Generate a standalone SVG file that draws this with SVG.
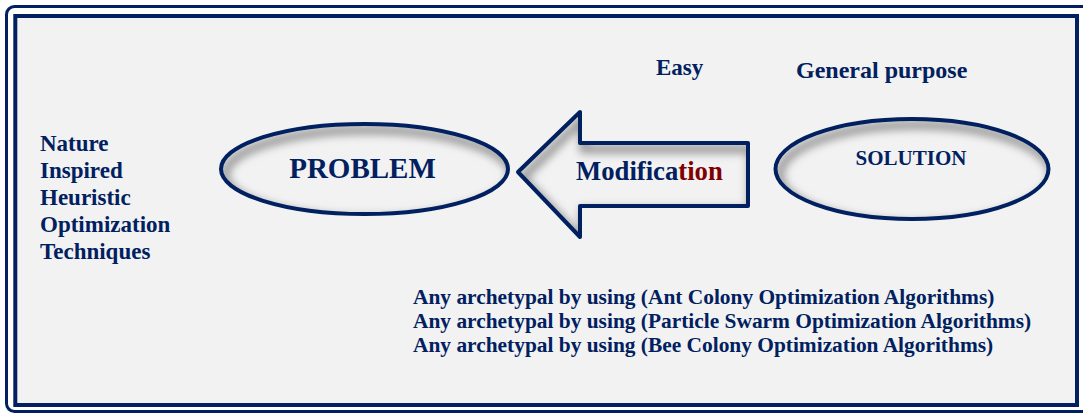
<svg xmlns="http://www.w3.org/2000/svg" width="1083" height="414" viewBox="0 0 1083 414">
  <style>
    .frame { fill: none; stroke: #002060; }
    .shape { fill: #f2f2f2; }
    .edge { fill: none; stroke: #002060; stroke-width: 4; stroke-linejoin: round; }
    .shade { fill: none; stroke: #9a9a9a; stroke-width: 9; }
    .t { font-family: "Liberation Serif", "Times New Roman", serif; font-weight: bold; fill: #002060; }
    .red { fill: #800000; }
  </style>
  <defs>
    <filter id="soft" x="-20%" y="-30%" width="140%" height="160%">
      <feGaussianBlur stdDeviation="4"/>
    </filter>
    <clipPath id="clipProblem"><ellipse cx="364.5" cy="169" rx="143.5" ry="45"/></clipPath>
    <clipPath id="clipSolution"><ellipse cx="912" cy="169" rx="136.5" ry="50"/></clipPath>
    <clipPath id="clipArrow"><polygon points="518,172 580,112 580,143 748,143 748,206 580,206 580,237"/></clipPath>
  </defs>

  <!-- page frame: outer rounded border and inner panel -->
  <rect x="0" y="0" width="1083" height="414" fill="#ffffff"/>
  <rect class="frame" x="6.5" y="6.5" width="1090" height="405" rx="8" stroke-width="3"/>
  <rect x="15.3" y="16" width="1061.7" height="389" fill="#f2f2f2" stroke="#002060" stroke-width="4"/>

  <!-- left caption -->
  <g id="caption" class="t" font-size="23">
    <text x="40" y="151">Nature</text>
    <text x="40" y="178">Inspired</text>
    <text x="40" y="205">Heuristic</text>
    <text x="40" y="232">Optimization</text>
    <text x="40" y="259">Techniques</text>
  </g>

  <!-- top labels -->
  <g id="labels" class="t">
    <text x="656" y="75" font-size="23">Easy</text>
    <text x="796" y="78" font-size="24">General purpose</text>
  </g>

  <!-- problem node -->
  <g id="problem">
    <ellipse class="shape" cx="364.5" cy="169" rx="143.5" ry="45"/>
    <g clip-path="url(#clipProblem)">
      <ellipse class="shade" cx="368.5" cy="175" rx="143.5" ry="45" filter="url(#soft)"/>
    </g>
    <ellipse class="edge" cx="364.5" cy="169" rx="143.5" ry="45"/>
    <text class="t" x="362.5" y="178" font-size="29" text-anchor="middle">PROBLEM</text>
  </g>

  <!-- solution node -->
  <g id="solution">
    <ellipse class="shape" cx="912" cy="169" rx="136.5" ry="50"/>
    <g clip-path="url(#clipSolution)">
      <ellipse class="shade" cx="916" cy="175" rx="136.5" ry="50" filter="url(#soft)"/>
    </g>
    <ellipse class="edge" cx="912" cy="169" rx="136.5" ry="50"/>
    <text class="t" x="911" y="165" font-size="21" text-anchor="middle">SOLUTION</text>
  </g>

  <!-- block arrow from solution to problem -->
  <g id="connectors">
    <g id="modification">
      <polygon class="shape" points="518,172 580,112 580,143 748,143 748,206 580,206 580,237"/>
      <g clip-path="url(#clipArrow)">
        <polygon class="shade" points="518,172 580,112 580,143 748,143 748,206 580,206 580,237" transform="translate(4,6)" filter="url(#soft)"/>
      </g>
      <polygon class="edge" points="518,172 580,112 580,143 748,143 748,206 580,206 580,237"/>
      <text class="t" x="576" y="180" font-size="26.7">Modifica<tspan class="red">tion</tspan></text>
    </g>
  </g>

  <!-- algorithm list -->
  <g id="algorithms" class="t" font-size="21.4">
    <text x="413" y="304">Any archetypal by using (Ant Colony Optimization Algorithms)</text>
    <text x="413" y="328">Any archetypal by using (Particle Swarm Optimization Algorithms)</text>
    <text x="413" y="352">Any archetypal by using (Bee Colony Optimization Algorithms)</text>
  </g>
</svg>
